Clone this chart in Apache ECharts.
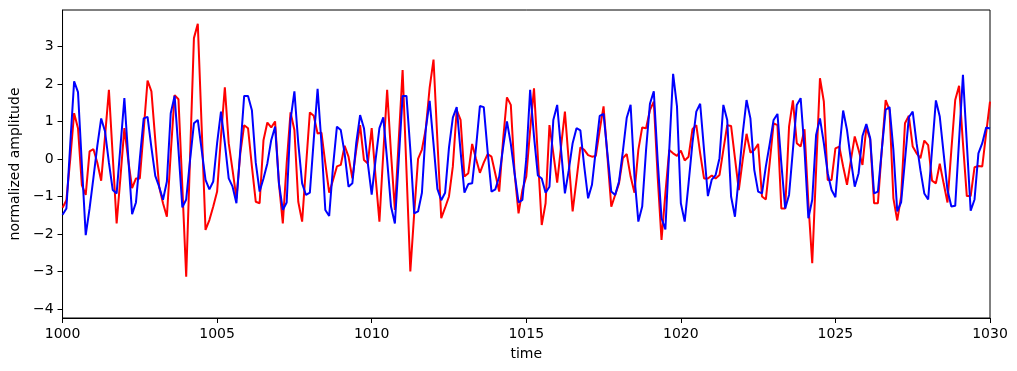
<!DOCTYPE html>
<html>
<head>
<meta charset="UTF-8">
<title>normalized amplitude</title>
<script src="https://cdn.jsdelivr.net/npm/echarts@6/dist/echarts.min.js"></script>
<style>html,body{margin:0;padding:0;background:#fff;}</style>
</head>
<body>
<div id="chart" style="width:1017px;height:371px;"></div>
<script>
// sampling grid of both traces
var t0 = 1000, dt = 0.125;

var red = [
  -1.3, -1.1, 0.0, 1.22, 0.82, -0.7, -0.96, 0.2, 0.26, -0.1,
  -0.58, 0.6, 1.84, 0.06, -1.72, -0.47, 0.82, -0.03, -0.78, -0.52,
  -0.52, 0.77, 2.09, 1.8, 0.5, -0.74, -1.18, -1.54, 0.15, 1.7,
  1.59, -0.74, -3.14, 0.06, 3.22, 3.6, 0.86, -1.89, -1.63, -1.27,
  -0.87, 0.6, 1.91, 0.42, -0.3, -1.05, 0.15, 0.9, 0.82, -0.2,
  -1.14, -1.18, 0.5, 0.97, 0.84, 1.0, -0.65, -1.72, -0.12, 1.24,
  0.77, -1.14, -1.67, -0.2, 1.24, 1.15, 0.68, 0.7, -0.12, -0.9,
  -0.56, -0.2, -0.16, 0.35, 0.06, -0.52, 0.24, 0.9, -0.03, -0.12,
  0.82, -0.47, -1.67, 0.15, 1.84, 0.15, -1.36, 0.5, 2.37, -0.3,
  -3.0, -1.45, 0.0, 0.25, 0.8, 1.9, 2.65, 0.5, -1.58, -1.3,
  -1.0, -0.2, 1.3, 1.04, -0.47, -0.38, 0.4, 0.0, -0.37, -0.1,
  0.13, 0.06, -0.4, -0.87, 0.5, 1.64, 1.44, -0.4, -1.45, -0.83,
  -0.47, 0.77, 1.88, 0.06, -1.76, -1.18, 0.9, 0.15, -0.63, 0.33,
  1.26, -0.07, -1.4, -0.56, 0.31, 0.24, 0.1, 0.06, 0.08, 0.77,
  1.4, 0.06, -1.27, -0.96, -0.65, 0.02, 0.13, -0.47, -0.9, 0.24,
  0.84, 0.82, 1.3, 1.53, -0.47, -2.16, -0.92, 0.24, 0.15, 0.08,
  0.22, -0.04, 0.06, 0.79, 0.9, 0.15, -0.52, -0.52, -0.44, -0.52,
  -0.43, 0.24, 0.9, 0.88, 0.02, -0.83, -0.03, 0.67, 0.17, 0.24,
  0.4, -1.0, -1.08, -0.1, 0.95, 0.9, -1.32, -1.32, 0.86, 1.56,
  0.42, 0.33, 0.79, -1.18, -2.78, -0.3, 2.15, 1.53, -0.56, -0.56,
  0.28, 0.33, -0.2, -0.69, -0.03, 0.6, 0.24, -0.16, 0.84, 0.52,
  -1.18, -1.18, 0.24, 1.57, 1.3, -1.05, -1.64, -1.0, 0.95, 1.15,
  0.33, 0.15, 0.02, 0.49, 0.37, -0.58, -0.65, -0.13, -0.65, -1.16,
  0.24, 1.57, 1.95, 0.42, -0.99, -0.99, -0.22, -0.19, -0.2, 0.68,
  1.53
];

var blue = [
  -1.49, -1.32, 0.4, 2.07, 1.78, -0.15, -2.03, -1.32, -0.5, 0.35,
  1.08, 0.73, -0.1, -0.83, -0.92, 0.35, 1.62, 0.05, -1.47, -1.16,
  0.0, 1.08, 1.12, 0.3, -0.45, -0.74, -1.09, -0.6, 1.22, 1.68,
  0.24, -1.29, -1.08, -0.03, 0.95, 1.04, 0.24, -0.56, -0.81, -0.6,
  0.42, 1.26, 0.42, -0.52, -0.74, -1.18, 0.24, 1.68, 1.68, 1.3,
  -0.1, -0.87, -0.52, -0.12, 0.5, 0.86, -0.65, -1.36, -1.16, 1.04,
  1.8, 0.42, -0.65, -0.96, -0.9, 0.5, 1.87, 0.42, -1.36, -1.52,
  -0.2, 0.86, 0.77, 0.15, -0.74, -0.65, 0.42, 1.17, 0.82, -0.12,
  -0.95, -0.03, 0.82, 1.11, -0.03, -1.27, -1.72, -0.03, 1.68, 1.68,
  0.24, -1.45, -1.4, -0.9, 0.8, 1.55, 0.4, -0.8, -1.1, -0.9,
  0.3, 1.1, 1.38, 0.2, -0.9, -0.67, -0.65, 0.3, 1.41, 1.38,
  0.2, -0.87, -0.81, -0.47, 0.3, 1.0, 0.4, -0.4, -1.16, -1.09,
  0.0, 1.84, 0.6, -0.44, -0.52, -0.9, -0.74, 1.04, 1.44, 0.24,
  -0.92, -0.3, 0.42, 0.82, 0.76, -0.2, -1.05, -0.69, 0.24, 1.15,
  1.2, 0.15, -0.87, -0.96, -0.6, 0.2, 1.1, 1.44, -0.47, -1.67,
  -1.27, 0.24, 1.47, 1.8, -0.03, -1.58, -1.88, 0.24, 2.27, 1.4,
  -1.18, -1.67, -0.65, 0.42, 1.26, 1.47, 0.24, -0.99, -0.55, -0.43,
  0.02, 1.44, 1.04, -1.0, -1.54, -0.47, 0.67, 1.57, 1.08, -0.29,
  -0.87, -0.92, -0.2, 0.4, 1.04, 1.2, -0.12, -1.32, -0.96, 0.24,
  1.44, 1.62, 0.24, -1.58, -1.09, 0.64, 1.08, 0.42, -0.38, -0.83,
  -1.02, 0.24, 1.29, 0.77, -0.03, -0.74, -0.38, 0.61, 0.93, 0.55,
  -0.92, -0.87, 0.24, 1.31, 1.38, 0.24, -1.4, -1.16, -0.03, 1.11,
  1.26, 0.42, -0.3, -0.92, -1.08, 0.24, 1.56, 1.13, 0.15, -0.83,
  -1.27, -1.25, 0.5, 2.24, 0.42, -1.38, -1.08, 0.15, 0.42, 0.84,
  0.81
];

var yTicks = [-4, -3, -2, -1, 0, 1, 2, 3];

function pairs(vals) {
  return vals.map(function (v, i) { return [t0 + i * dt, v]; });
}

function minus(v) {
  return String(v).replace('-', '\u2212');
}

var chart = echarts.init(document.getElementById('chart'), null, {renderer: 'canvas'});

var font = 'DejaVu Sans';

chart.setOption({
  animation: false,
  backgroundColor: '#fff',
  grid: {
    left: 60, top: 10, width: 930, height: 308,
    show: true, borderColor: '#000', borderWidth: 1, backgroundColor: 'transparent'
  },
  xAxis: {
    type: 'value',
    min: 1000, max: 1030, interval: 5,
    name: 'time', nameLocation: 'middle', nameGap: 29,
    nameTextStyle: {fontFamily: font, fontSize: 14, color: '#000'},
    axisLine: {show: true, onZero: false, lineStyle: {color: '#000', width: 1}},
    axisTick: {show: true, inside: false, length: 5, lineStyle: {color: '#000', width: 1}},
    axisLabel: {fontFamily: font, fontSize: 14, color: '#000', margin: 9,
      formatter: function (v) { return String(v); }},
    splitLine: {show: false}
  },
  yAxis: {
    type: 'value',
    min: -4.24, max: 3.97,
    name: 'normalized amplitude', nameLocation: 'middle', nameRotate: 90, nameGap: 35,
    nameTextStyle: {fontFamily: font, fontSize: 14, color: '#000'},
    axisLine: {show: true, onZero: false, lineStyle: {color: '#000', width: 1}},
    axisTick: {show: true, inside: false, length: 5, customValues: yTicks, lineStyle: {color: '#000', width: 1}},
    axisLabel: {fontFamily: font, fontSize: 14, color: '#000', margin: 9, customValues: yTicks, formatter: minus},
    splitLine: {show: false}
  },
  series: [
    {
      type: 'line', data: pairs(red), showSymbol: false,
      lineStyle: {color: '#ff0000', width: 2}, itemStyle: {color: '#ff0000'}
    },
    {
      type: 'line', data: pairs(blue), showSymbol: false,
      lineStyle: {color: '#0000ff', width: 2}, itemStyle: {color: '#0000ff'}
    }
  ]
});
</script>
</body>
</html>
